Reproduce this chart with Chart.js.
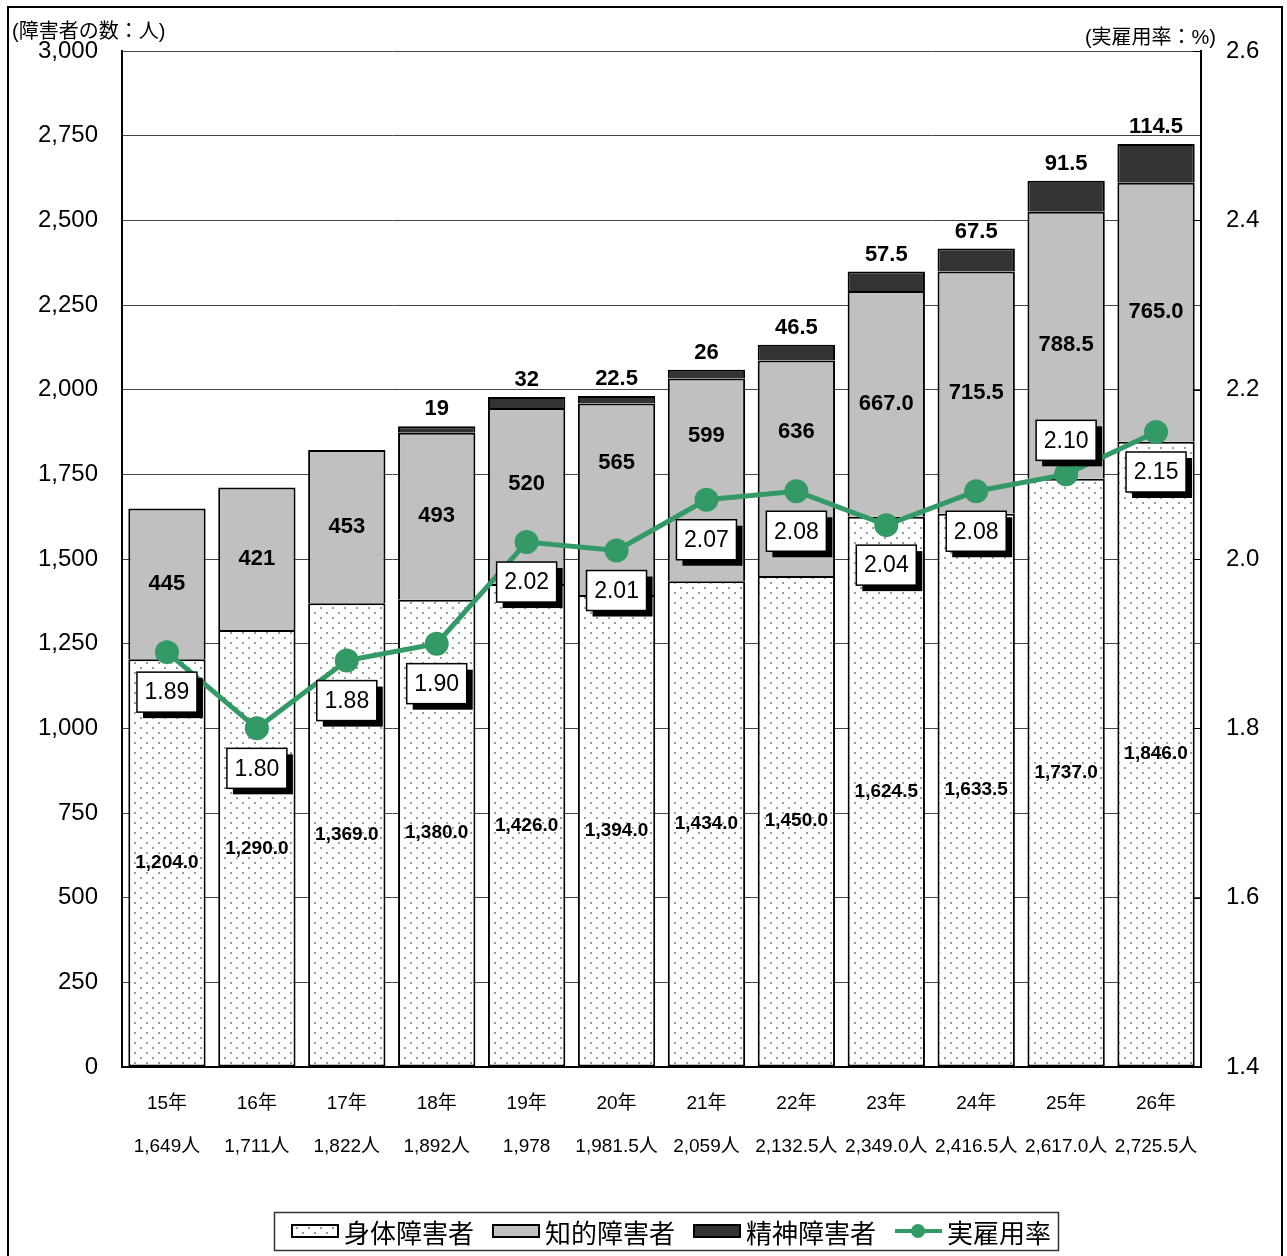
<!DOCTYPE html>
<html lang="ja">
<head>
<meta charset="utf-8">
<title>障害者の数と実雇用率</title>
<script src="https://cdn.jsdelivr.net/npm/chart.js@4.4.1/dist/chart.umd.min.js"></script>
<style>
  html, body { margin: 0; padding: 0; background: #fff; }
  #wrap { position: relative; width: 1287px; height: 1256px; overflow: hidden; }
  #chart { position: absolute; left: 0; top: 0; }
  #frame { position: absolute; left: 7px; top: 6px; width: 1276px; height: 1300px; border: 2px solid #000; box-sizing: border-box; pointer-events: none; }
</style>
</head>
<body>
<div id="wrap">
  <canvas id="chart" width="1287" height="1256"></canvas>
  <div id="frame"></div>
</div>
<script>
// 年と合計人数（x軸の2段ラベル）
const years = ['15年', '16年', '17年', '18年', '19年', '20年', '21年', '22年', '23年', '24年', '25年', '26年'];
const totalLabels = ['1,649人', '1,711人', '1,822人', '1,892人', '1,978', '1,981.5人', '2,059人', '2,132.5人', '2,349.0人', '2,416.5人', '2,617.0人', '2,725.5人'];

// 障害者の数（人）
const physical = [1204, 1290, 1369, 1380, 1426, 1394, 1434, 1450, 1624.5, 1633.5, 1737, 1846];
const intellectual = [445, 421, 453, 493, 520, 565, 599, 636, 667, 715.5, 788.5, 765];
const mental = [null, null, null, 19, 32, 22.5, 26, 46.5, 57.5, 67.5, 91.5, 114.5];

// 実雇用率（%）
const rate = [1.89, 1.80, 1.88, 1.90, 2.02, 2.01, 2.07, 2.08, 2.04, 2.08, 2.10, 2.15];

// 目盛り
const leftTicks = [0, 250, 500, 750, 1000, 1250, 1500, 1750, 2000, 2250, 2500, 2750, 3000];
const rightTicks = [1.4, 1.6, 1.8, 2.0, 2.2, 2.4, 2.6];

const FONT = '"Liberation Sans", "Noto Sans CJK JP", sans-serif';
const GREEN = '#339966';

// 知的障害者ラベルの上方向のずらし（折れ線の枠と重ならないように）
const intellectualShift = [0, 0, 0, 0, 12, 36, 44, 36, 0, 0, 0, 0];

const canvas = document.getElementById('chart');
const ctx0 = canvas.getContext('2d');

// 身体障害者の点模様
const dotTile = document.createElement('canvas');
dotTile.width = 12;
dotTile.height = 10;
const dt = dotTile.getContext('2d');
dt.fillStyle = '#fff';
dt.fillRect(0, 0, 12, 10);
dt.fillStyle = '#9a9a9a';
dt.fillRect(2, 2, 2, 2);
dt.fillRect(8, 7, 2, 2);
const dotPattern = ctx0.createPattern(dotTile, 'repeat');

function fmt(v, digits) {
    return v.toLocaleString('en-US', { minimumFractionDigits: digits, maximumFractionDigits: 1 });
}

// 数値ラベル・雇用率の枠・凡例・軸見出し
const annotations = {
    id: 'annotations',
    afterDatasetsDraw(chart) {
        const ctx = chart.ctx;
        ctx.save();
        ctx.fillStyle = '#000';
        ctx.textAlign = 'center';
        ctx.textBaseline = 'middle';

        chart.getDatasetMeta(0).data.forEach((bar, i) => {
            ctx.font = 'bold 19px ' + FONT;
            ctx.fillText(fmt(physical[i], 1), bar.x, (bar.y + bar.base) / 2);
        });
        chart.getDatasetMeta(1).data.forEach((bar, i) => {
            ctx.font = 'bold 22px ' + FONT;
            ctx.fillText(fmt(intellectual[i], i >= 8 ? 1 : 0), bar.x, (bar.y + bar.base) / 2 - intellectualShift[i]);
        });
        chart.getDatasetMeta(2).data.forEach((bar, i) => {
            if (mental[i] == null) return;
            ctx.font = 'bold 22px ' + FONT;
            ctx.fillText(String(mental[i]), bar.x, bar.y - 17);
        });

        // 実雇用率の枠付きラベル
        chart.getDatasetMeta(3).data.forEach((pt, i) => {
            const w = 60, h = 40;
            const cy = i === 10 ? pt.y - 34 : pt.y + 40;
            const x = pt.x - w / 2, y = cy - h / 2;
            ctx.fillStyle = '#000';
            ctx.fillRect(x + 6, y + 6, w, h);
            ctx.fillStyle = '#fff';
            ctx.fillRect(x, y, w, h);
            ctx.lineWidth = 1.5;
            ctx.strokeStyle = '#000';
            ctx.strokeRect(x, y, w, h);
            ctx.fillStyle = '#000';
            ctx.font = '23px ' + FONT;
            ctx.fillText(rate[i].toFixed(2), pt.x, cy + 1);
        });
        ctx.restore();
    },
    afterDraw(chart) {
        const ctx = chart.ctx;
        const area = chart.chartArea;
        const y1 = chart.scales.y1;
        ctx.save();

        // 右軸の内向き目盛り
        ctx.strokeStyle = '#000';
        ctx.lineWidth = 1;
        rightTicks.forEach(v => {
            const py = Math.round(y1.getPixelForValue(v)) + 0.5;
            ctx.beginPath();
            ctx.moveTo(area.right - 8, py);
            ctx.lineTo(area.right, py);
            ctx.stroke();
        });

        // 軸の見出し
        ctx.fillStyle = '#000';
        ctx.font = '20px ' + FONT;
        ctx.textBaseline = 'middle';
        ctx.textAlign = 'left';
        ctx.fillText('(障害者の数：人)', 12, 32);
        ctx.textAlign = 'right';
        ctx.fillText('(実雇用率：%)', 1216, 38);

        // 凡例
        ctx.lineWidth = 1.5;
        ctx.strokeStyle = '#333';
        ctx.strokeRect(274.5, 1212.5, 784, 38);
        const items = [
            { text: '身体障害者', fill: dotPattern },
            { text: '知的障害者', fill: '#c0c0c0' },
            { text: '精神障害者', fill: '#333333' },
            { text: '実雇用率', line: true }
        ];
        let x = 292;
        const cy = 1231;
        ctx.font = '26px ' + FONT;
        ctx.textAlign = 'left';
        items.forEach(it => {
            if (it.line) {
                ctx.strokeStyle = GREEN;
                ctx.lineWidth = 4;
                ctx.beginPath();
                ctx.moveTo(x, cy);
                ctx.lineTo(x + 47, cy);
                ctx.stroke();
                ctx.fillStyle = GREEN;
                ctx.beginPath();
                ctx.arc(x + 23, cy, 7, 0, Math.PI * 2);
                ctx.fill();
            } else {
                ctx.fillStyle = it.fill;
                ctx.fillRect(x, cy - 6, 46, 12);
                ctx.strokeStyle = '#000';
                ctx.lineWidth = 2;
                ctx.strokeRect(x, cy - 6, 46, 12);
            }
            x += 52;
            ctx.fillStyle = '#000';
            ctx.fillText(it.text, x, cy + 5);
            x += ctx.measureText(it.text).width + 19;
        });
        ctx.restore();
    }
};

const barCommon = {
    borderColor: '#000',
    borderSkipped: false,
    barPercentage: 0.86,
    categoryPercentage: 1.0,
    yAxisID: 'y',
    order: 1
};

new Chart(canvas, {
    type: 'bar',
    data: {
        labels: years.map((y, i) => [y, totalLabels[i]]),
        datasets: [
            Object.assign({ label: '身体障害者', data: physical, backgroundColor: dotPattern,
                borderWidth: { top: 2, left: 2, right: 2, bottom: 2 } }, barCommon),
            Object.assign({ label: '知的障害者', data: intellectual, backgroundColor: '#c0c0c0',
                borderWidth: { top: 2, left: 2, right: 2, bottom: 0 } }, barCommon),
            Object.assign({ label: '精神障害者', data: mental, backgroundColor: '#333333',
                borderWidth: { top: 2, left: 2, right: 2, bottom: 0 } }, barCommon),
            {
                type: 'line',
                label: '実雇用率',
                data: rate,
                yAxisID: 'y1',
                borderColor: GREEN,
                backgroundColor: GREEN,
                borderWidth: 5,
                pointRadius: 12,
                pointBackgroundColor: GREEN,
                pointBorderWidth: 0,
                tension: 0,
                order: 0
            }
        ]
    },
    options: {
        responsive: false,
        animation: false,
        devicePixelRatio: 1,
        layout: { padding: { top: 51, bottom: 89, left: 0, right: 0 } },
        plugins: {
            legend: { display: false },
            tooltip: { enabled: false }
        },
        scales: {
            x: {
                stacked: true,
                grid: { display: false },
                border: { display: true, color: '#000', width: 2 },
                ticks: {
                    color: '#000',
                    padding: 7,
                    maxRotation: 0,
                    autoSkip: false,
                    font: { family: FONT, size: 19, lineHeight: '43px' }
                },
                afterFit(s) { s.height = 100; s.paddingLeft = 0; s.paddingRight = 0; }
            },
            y: {
                stacked: true,
                position: 'left',
                min: 0,
                max: 3000,
                grid: { color: '#444', lineWidth: 1, drawTicks: false },
                border: { display: true, color: '#000', width: 2 },
                ticks: {
                    color: '#000',
                    padding: 24,
                    font: { family: FONT, size: 24 },
                    callback: v => v.toLocaleString('en-US')
                },
                afterBuildTicks(s) { s.ticks = leftTicks.map(v => ({ value: v })); },
                afterFit(s) { s.width = 122; s.paddingTop = 0; s.paddingBottom = 0; }
            },
            y1: {
                position: 'right',
                min: 1.4,
                max: 2.6,
                grid: { drawOnChartArea: false, drawTicks: false },
                border: { display: true, color: '#000', width: 2 },
                ticks: {
                    color: '#000',
                    padding: 25,
                    font: { family: FONT, size: 24 },
                    callback: v => Number(v).toFixed(1)
                },
                afterBuildTicks(s) { s.ticks = rightTicks.map(v => ({ value: v })); },
                afterFit(s) { s.width = 86; s.paddingTop = 0; s.paddingBottom = 0; }
            }
        }
    },
    plugins: [annotations]
});
</script>
</body>
</html>
